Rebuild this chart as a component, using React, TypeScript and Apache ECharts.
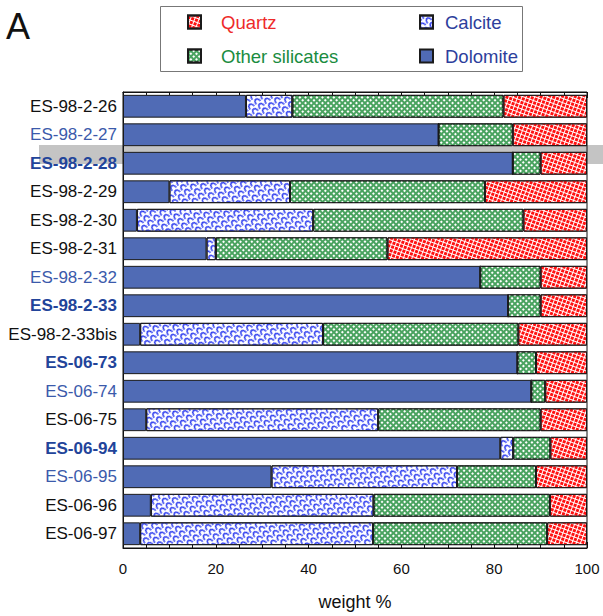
import React, { useEffect, useRef } from 'react';
import * as echarts from 'echarts';

const samples = [
  'ES-98-2-26', 'ES-98-2-27', 'ES-98-2-28', 'ES-98-2-29', 'ES-98-2-30', 'ES-98-2-31',
  'ES-98-2-32', 'ES-98-2-33', 'ES-98-2-33bis', 'ES-06-73', 'ES-06-74', 'ES-06-75',
  'ES-06-94', 'ES-06-95', 'ES-06-96', 'ES-06-97',
];
const labelKinds = [
  'plain', 'blue', 'bold', 'plain', 'plain', 'plain', 'blue', 'bold', 'plain',
  'bold', 'blue', 'plain', 'bold', 'blue', 'plain', 'plain',
];
const dolomite = [26.5, 68, 84, 10, 3, 18, 77, 83, 3.7, 85, 88, 5, 81.3, 32, 6, 3.7];
const calcite = [10, 0, 0, 26, 38, 2, 0, 0, 39.4, 0, 0, 50, 2.8, 40, 48, 50.2];
const otherSilicates = [45.5, 16, 6, 42, 45.3, 37, 13, 7, 42.1, 4, 3, 35, 8, 17, 38, 37.5];
const quartz = [18, 16, 10, 22, 13.7, 43, 10, 10, 14.8, 11, 9, 10, 7.9, 11, 8, 8.6];

const xTicks = [0, 20, 40, 60, 80, 100];

const FONT = "'Liberation Sans', Arial, Helvetica, sans-serif";

export default function App() {
  const ref = useRef<HTMLDivElement>(null);
  useEffect(() => {
    document.body.style.margin = '0';
    const chart = echarts.init(ref.current!, null, { renderer: 'svg' });
    const border = { borderColor: '#1a1a1a', borderWidth: 1 };
    const axisCommon = {
      type: 'value',
      min: xTicks[0],
      max: xTicks[xTicks.length - 1],
      interval: 20,
      splitLine: { show: false },
      axisLine: { show: true, lineStyle: { color: '#111', width: 1 } },
      axisTick: { show: true, inside: true, length: 6, lineStyle: { color: '#111' } },
      minorTick: { show: true, splitNumber: 4, length: 3, lineStyle: { color: '#111' } },
    };
    const legendBase = (name: string, left: number, top: number, color: string, pad: number) => ({
      data: [name],
      left,
      top,
      padding: 0,
      orient: 'horizontal',
      itemWidth: 13,
      itemHeight: 13,
      icon: 'rect',
      selectedMode: false,
      textStyle: { color, fontSize: 18.5, fontFamily: FONT, lineHeight: 20, padding: [0, 0, 0, pad] },
    });
    chart.setOption({
      animation: false,
      textStyle: { fontFamily: FONT },
      graphic: [
        {
          type: 'rect',
          z: -1,
          shape: { x: 39, y: 145, width: 564, height: 19 },
          style: { fill: '#c4c4c4' },
        },
        {
          type: 'rect',
          shape: { x: 160.5, y: 6.5, width: 362, height: 65 },
          style: { fill: 'none', stroke: '#777', lineWidth: 1 },
        },
        {
          type: 'text',
          left: 6,
          top: 8,
          style: { text: 'A', fontSize: 36, fontFamily: FONT, fill: '#111' },
        },
      ],
      legend: [
        legendBase('Quartz', 187, 12, '#ee2a2a', 15),
        legendBase('Other silicates', 187, 46, '#1a8c40', 15),
        legendBase('Calcite', 419, 12, '#2d3e9c', 7),
        legendBase('Dolomite', 419, 46, '#2d3e9c', 7),
      ],
      grid: {
        left: 123,
        right: 16,
        top: 92,
        bottom: 61,
        show: true,
        borderColor: '#111',
        borderWidth: 1,
        backgroundColor: 'transparent',
      },
      xAxis: [
        {
          ...axisCommon,
          position: 'bottom',
          name: 'weight %',
          nameLocation: 'middle',
          nameGap: 45,
          nameTextStyle: { fontSize: 18, color: '#111', fontFamily: FONT },
          axisLabel: { fontSize: 15, color: '#111', margin: 13, fontFamily: FONT },
        },
        {
          ...axisCommon,
          position: 'top',
          axisLabel: { show: false },
        },
      ],
      yAxis: {
        type: 'category',
        data: samples,
        inverse: true,
        axisLine: { show: true, lineStyle: { color: '#111' } },
        axisTick: { show: false },
        axisLabel: {
          margin: 6,
          formatter: (v: string, i: number) => `{${labelKinds[i]}|${v}}`,
          rich: {
            plain: { color: '#111', fontSize: 17, fontFamily: FONT },
            blue: { color: '#3b5aab', fontSize: 17, fontFamily: FONT },
            bold: { color: '#22449a', fontSize: 17, fontFamily: FONT, fontWeight: 'bold' },
          },
        },
      },
      series: [
        {
          name: 'Dolomite',
          type: 'bar',
          stack: 'total',
          barWidth: '80%',
          data: dolomite,
          itemStyle: { color: '#506bb5', ...border },
        },
        {
          name: 'Calcite',
          type: 'bar',
          stack: 'total',
          data: calcite,
          itemStyle: {
            color: '#ffffff',
            ...border,
            decal: {
              symbol: 'path://M0,10 C0,0 10,0 10,10 L8,10 C8,3 2,3 2,10 Z',
              symbolSize: 1,
              color: '#2030ee',
              dashArrayX: [6.5, 0.2],
              dashArrayY: [4.5, 0.2],
              rotation: -0.7,
            },
          },
        },
        {
          name: 'Other silicates',
          type: 'bar',
          stack: 'total',
          data: otherSilicates,
          itemStyle: {
            color: '#4aa360',
            ...border,
            decal: {
              symbol: 'rect',
              symbolSize: 1,
              color: '#ffffff',
              dashArrayX: [1.6, 1.4],
              dashArrayY: [1.6, 1.4],
              rotation: 0.785,
            },
          },
        },
        {
          name: 'Quartz',
          type: 'bar',
          stack: 'total',
          data: quartz,
          itemStyle: {
            color: '#ffffff',
            ...border,
            decal: {
              symbol: 'rect',
              symbolSize: 1,
              color: '#ff1010',
              dashArrayX: [2.4, 0.9],
              dashArrayY: [2.4, 0.9],
              rotation: 0.35,
            },
          },
        },
      ],
    });
    return () => chart.dispose();
  }, []);
  return <div ref={ref} style={{ width: 603, height: 616 }} />;
}
